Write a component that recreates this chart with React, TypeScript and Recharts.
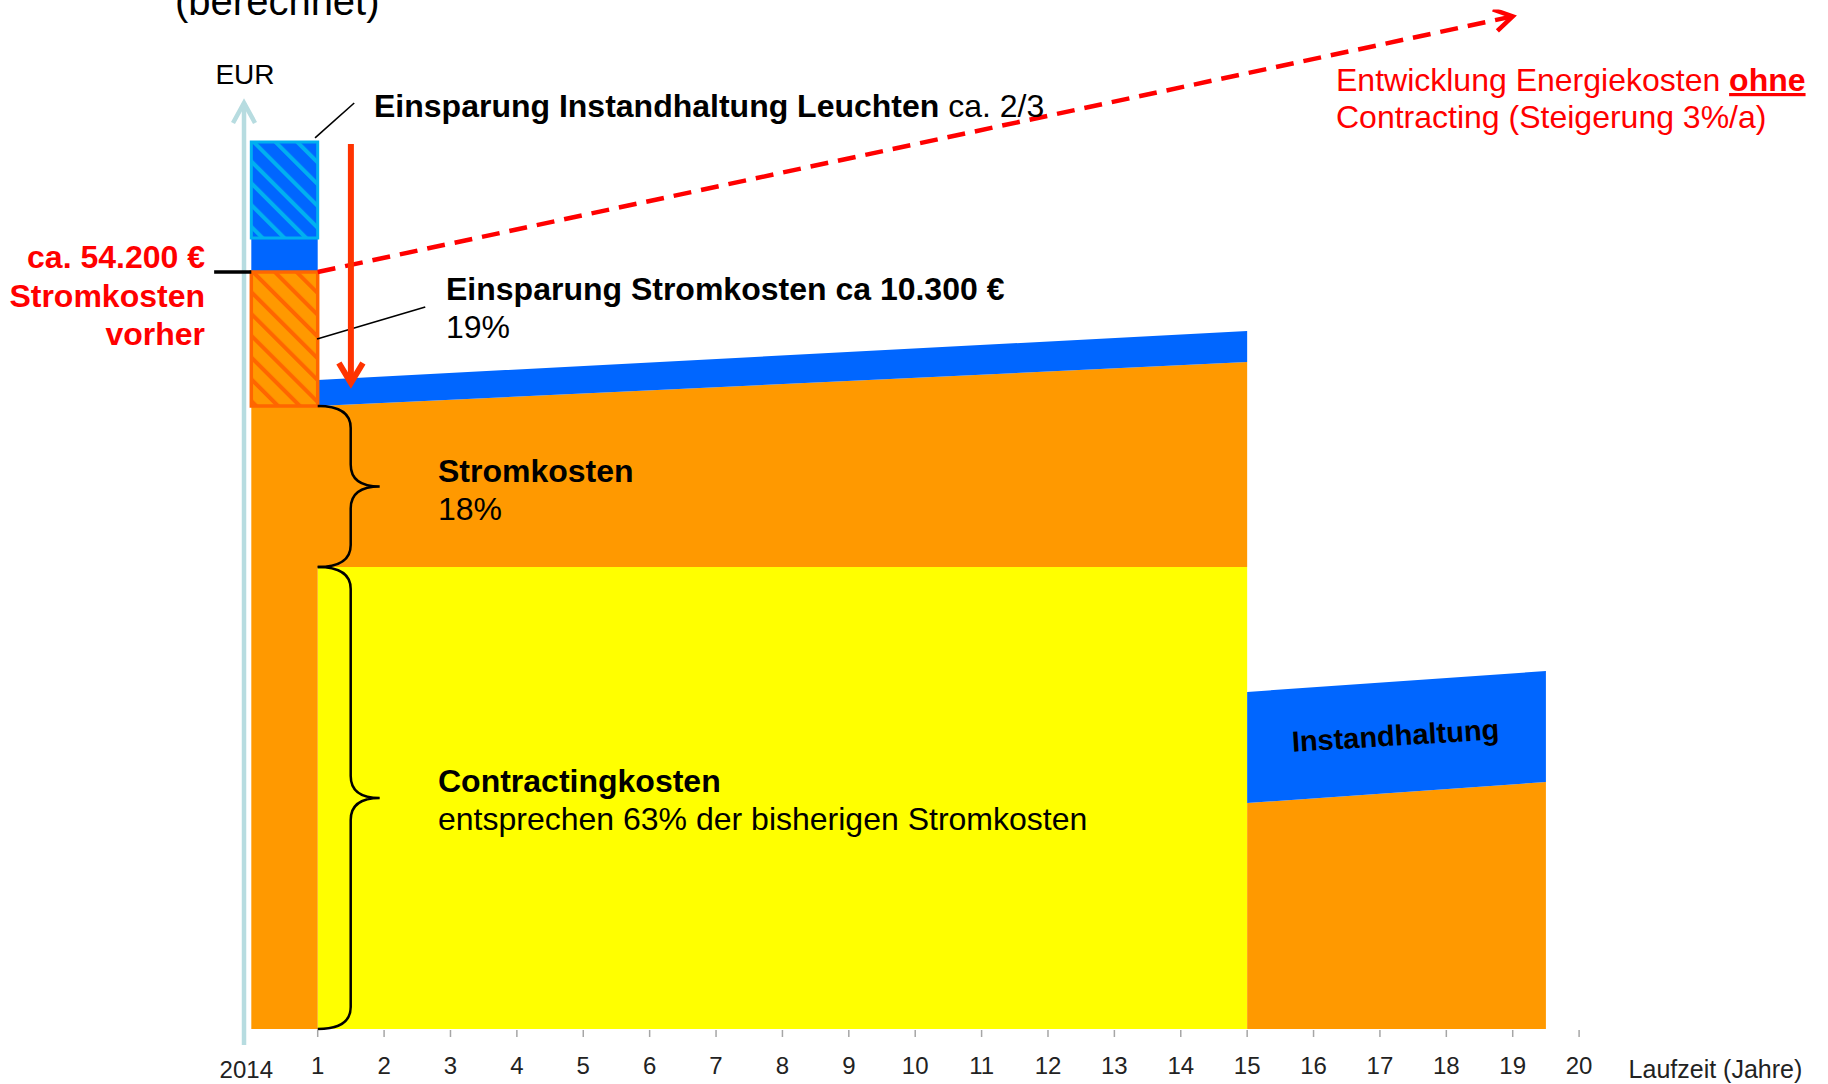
import React from 'react';
import { ComposedChart, Area, Line, XAxis, YAxis, ReferenceLine, ReferenceArea } from 'recharts';

// Laufzeit in Jahren (0 = Bestand 2014), Kosten in Tsd. EUR
const years = [0, 1, 1, 15, 15, 19.5];
const contracting = [0, 0, 33.08, 33.08, 0, 0];
const strom = [44.6, 44.6, 11.52, 14.67, 16.18, 17.68];
const stromEinsparung = [9.6, 9.6, 0, 0, 0, 0];
const instandhaltung = [2.43, 2.43, 1.87, 2.22, 7.95, 7.95];
const instandEinsparung = [6.87, 6.87, 0, 0, 0, 0];

// Entwicklung ohne Contracting (3%/a)
const ohneYears = [1, 19];
const ohneKosten = [54.2, 72.5];

// Pfeil Einsparung
const pfeilYears = [1.5, 1.5];
const pfeilKosten = [63.36, 46.25];

// Hinweislinien
const leaderInstand = [{ x: 0.96, y: 63.8 }, { x: 1.55, y: 66.3 }];
const leaderStrom = [{ x: 0.99, y: 49.4 }, { x: 2.62, y: 51.7 }];
const stromVorher = 54.2;

const xTicks = [0, 1, 2, 3, 4, 5, 6, 7, 8, 9, 10, 11, 12, 13, 14, 15, 16, 17, 18, 19, 20];
const tickLabels = ['2014', '1', '2', '3', '4', '5', '6', '7', '8', '9', '10', '11', '12', '13', '14', '15', '16', '17', '18', '19', '20'];

const rows = years.map((x, i) => ({
  x,
  contracting: contracting[i],
  strom: strom[i],
  stromEinsparung: stromEinsparung[i],
  instandhaltung: instandhaltung[i],
  instandEinsparung: instandEinsparung[i],
}));
const ohneData = ohneYears.map((x, i) => ({ x, y: ohneKosten[i] }));
const pfeilData = pfeilYears.map((x, i) => ({ x, y: pfeilKosten[i] }));

// Bestand 2014 (Stapel)
const b2014Strom = contracting[0] + strom[0];
const b2014StromAlt = b2014Strom + stromEinsparung[0];
const b2014Instand = b2014StromAlt + instandhaltung[0];
const b2014InstandAlt = b2014Instand + instandEinsparung[0];
const braceContract = contracting[2];
const braceStrom = contracting[2] + strom[2];

const FONT = "'Liberation Sans', Arial, Helvetica, sans-serif";
const ORANGE = '#FF9900';
const BLUE = '#0066FF';

const YearTick = (props: any) => {
  const { x, y, payload } = props;
  const idx = xTicks.indexOf(payload.value);
  const label = tickLabels[idx];
  if (payload.value === 0) {
    return (
      <text x={x - 5} y={y + 49} textAnchor="middle" fontSize={24} fontFamily={FONT} fill="#222">
        {label}
      </text>
    );
  }
  return (
    <g>
      <line x1={x} x2={x} y1={y + 1} y2={y + 8} stroke="#A6A6A6" strokeWidth={1.5} />
      <text x={x} y={y + 45} textAnchor="middle" fontSize={24} fontFamily={FONT} fill="#222">
        {label}
      </text>
    </g>
  );
};

const Brace = (props: any) => {
  const { x1, y1, y2 } = props;
  const top = Math.min(y1, y2);
  const bot = Math.max(y1, y2);
  const mid = (top + bot) / 2;
  const v = x1 + 33;
  const tip = x1 + 62;
  const r = 22;
  const d = `M${x1},${top} Q${v},${top} ${v},${top + r} L${v},${mid - r} Q${v},${mid} ${tip},${mid} Q${v},${mid} ${v},${mid + r} L${v},${bot - r} Q${v},${bot} ${x1},${bot}`;
  return <path d={d} fill="none" stroke="#000" strokeWidth={2.5} />;
};

export default function App() {
  return (
    <div style={{ position: 'absolute', left: 0, top: 0, width: 1828, height: 1084, background: '#fff', overflow: 'hidden' }}>
      <ComposedChart
        width={1828}
        height={1084}
        data={rows}
        margin={{ top: 9.4, right: 215.7, bottom: 5, left: 198.2 }}
      >
        <defs>
          <pattern id="hatchBlue" patternUnits="userSpaceOnUse" width={15.4} height={15.4} patternTransform="rotate(-45)">
            <rect width={15.4} height={15.4} fill={BLUE} />
            <rect width={4} height={15.4} fill="#00B0F0" />
          </pattern>
          <pattern id="hatchOrange" patternUnits="userSpaceOnUse" width={15.4} height={15.4} patternTransform="rotate(-45)">
            <rect width={15.4} height={15.4} fill={ORANGE} />
            <rect width={4} height={15.4} fill="#FF6600" />
          </pattern>
          <marker id="arrowRed" markerUnits="userSpaceOnUse" markerWidth={24} markerHeight={24} refX={20} refY={11} orient="auto" overflow="visible">
            <path d="M2,0 L20,11 L2,22" fill="none" stroke="#FF0000" strokeWidth={4.5} />
          </marker>
          <marker id="arrowDown" markerUnits="userSpaceOnUse" markerWidth={24} markerHeight={26} refX={20} refY={12} orient="auto" overflow="visible">
            <path d="M0,0 L20,12 L0,24" fill="none" stroke="#FF3300" strokeWidth={6} />
          </marker>
          <marker id="arrowAxis" markerUnits="userSpaceOnUse" markerWidth={24} markerHeight={24} refX={20} refY={11} orient="auto" overflow="visible">
            <path d="M0,0 L20,11 L0,22" fill="none" stroke="#B7DCE0" strokeWidth={4.5} />
          </marker>
        </defs>
        <XAxis
          dataKey="x"
          type="number"
          domain={[-0.8, 20.5]}
          ticks={xTicks}
          interval={0}
          allowDataOverflow
          axisLine={false}
          tickLine={false}
          tickSize={0}
          tickMargin={0}
          height={50}
          tick={(p: any) => <YearTick {...p} />}
        />
        <YAxis type="number" domain={[0, 73]} allowDataOverflow hide width={0} />

        <Area stackId="k" type="linear" dataKey="contracting" fill="#FFFF00" fillOpacity={1} stroke="none" isAnimationActive={false} />
        <Area stackId="k" type="linear" dataKey="strom" fill={ORANGE} fillOpacity={1} stroke="none" isAnimationActive={false} />
        <Area stackId="k" type="linear" dataKey="stromEinsparung" fill="url(#hatchOrange)" fillOpacity={1} stroke="none" isAnimationActive={false} />
        <Area stackId="k" type="linear" dataKey="instandhaltung" fill={BLUE} fillOpacity={1} stroke="none" isAnimationActive={false} />
        <Area stackId="k" type="linear" dataKey="instandEinsparung" fill="url(#hatchBlue)" fillOpacity={1} stroke="none" isAnimationActive={false} />

        <ReferenceArea x1={0} x2={1} y1={b2014Strom} y2={b2014StromAlt} fill="none" stroke="#FF6600" strokeWidth={3.5} ifOverflow="visible" />
        <ReferenceArea x1={0} x2={1} y1={b2014Instand} y2={b2014InstandAlt} fill="none" stroke="#00B0F0" strokeWidth={3} ifOverflow="visible" />

        <ReferenceLine
          segment={[{ x: -0.11, y: -1.15 }, { x: -0.11, y: 66.3 }]}
          stroke="#B7DCE0"
          strokeWidth={4.5}
          markerEnd="url(#arrowAxis)"
          ifOverflow="visible"
        />
        <ReferenceLine segment={[{ x: -0.56, y: stromVorher }, { x: 0, y: stromVorher }]} stroke="#000" strokeWidth={3.5} ifOverflow="visible" />
        <ReferenceLine segment={leaderInstand} stroke="#000" strokeWidth={1.6} ifOverflow="visible" />
        <ReferenceLine segment={leaderStrom} stroke="#000" strokeWidth={1.6} ifOverflow="visible" />
        <ReferenceLine segment={[{ x: 1, y: braceContract }, { x: 1, y: braceStrom }]} shape={(p: any) => <Brace {...p} />} ifOverflow="visible" />
        <ReferenceLine segment={[{ x: 1, y: 0 }, { x: 1, y: braceContract }]} shape={(p: any) => <Brace {...p} />} ifOverflow="visible" />

        <Line
          data={ohneData}
          dataKey="y"
          type="linear"
          stroke="#FF0000"
          strokeWidth={4.5}
          strokeDasharray="18 10"
          dot={false}
          activeDot={false}
          markerEnd="url(#arrowRed)"
          isAnimationActive={false}
        />
        <Line
          data={pfeilData}
          dataKey="y"
          type="linear"
          stroke="#FF3300"
          strokeWidth={6}
          dot={false}
          activeDot={false}
          markerEnd="url(#arrowDown)"
          isAnimationActive={false}
        />
      </ComposedChart>

      <svg width={1828} height={1084} style={{ position: 'absolute', left: 0, top: 0, pointerEvents: 'none' }} fontFamily={FONT}>
        <text x={175} y={15} fontSize={40} fill="#000">(berechnet)</text>
        <text x={245} y={84} fontSize={28} fill="#000" textAnchor="middle">EUR</text>

        <text x={374} y={117} fontSize={32} fill="#000">
          <tspan fontWeight="bold">Einsparung Instandhaltung Leuchten</tspan>
          {' ca. 2/3'}
        </text>

        <text x={205} y={268} fontSize={32} fontWeight="bold" fill="#FF0000" textAnchor="end">ca. 54.200 €</text>
        <text x={205} y={306.6} fontSize={32} fontWeight="bold" fill="#FF0000" textAnchor="end">Stromkosten</text>
        <text x={205} y={345} fontSize={32} fontWeight="bold" fill="#FF0000" textAnchor="end">vorher</text>

        <text x={446} y={300} fontSize={32} fontWeight="bold" fill="#000">Einsparung Stromkosten ca 10.300 €</text>
        <text x={446} y={338} fontSize={32} fill="#000">19%</text>

        <text x={438} y={481.5} fontSize={32} fontWeight="bold" fill="#000">Stromkosten</text>
        <text x={438} y={520} fontSize={32} fill="#000">18%</text>

        <text x={438} y={791.6} fontSize={32} fontWeight="bold" fill="#000">Contractingkosten</text>
        <text x={438} y={830} fontSize={32} fill="#000">entsprechen 63% der bisherigen Stromkosten</text>

        <text x={1336} y={91} fontSize={32} fill="#FF0000">
          {'Entwicklung Energiekosten '}
          <tspan fontWeight="bold" textDecoration="underline">ohne</tspan>
        </text>
        <text x={1336} y={128} fontSize={32} fill="#FF0000">Contracting (Steigerung 3%/a)</text>

        <text x={1395.5} y={745.5} fontSize={29} fontWeight="bold" fill="#000" textAnchor="middle" transform="rotate(-3.5 1395.5 735.6)">
          Instandhaltung
        </text>

        <text x={1628.6} y={1078} fontSize={25} fill="#222">Laufzeit (Jahre)</text>
      </svg>
    </div>
  );
}
